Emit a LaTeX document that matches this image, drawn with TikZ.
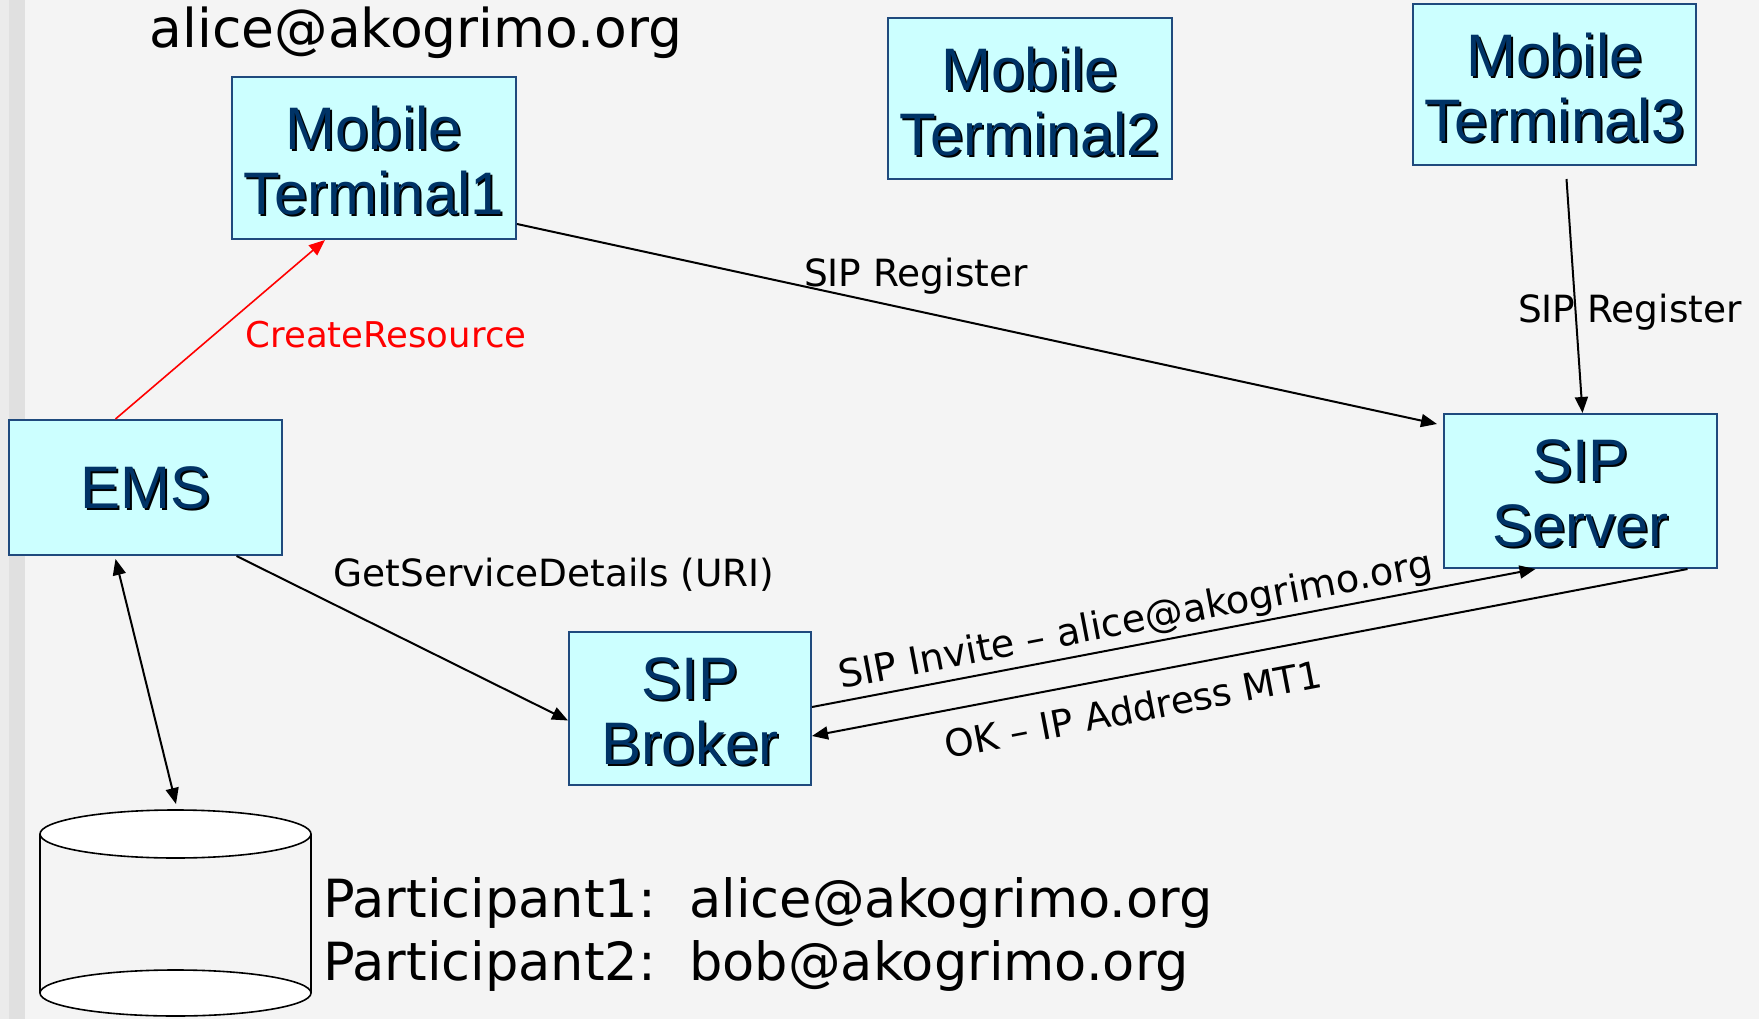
\documentclass[tikz,border=0pt]{standalone}
\usepackage{fontspec}
\setmainfont{DejaVu Sans}
\newfontfamily\boxfont{Liberation Sans}
\usetikzlibrary{arrows.meta,calc}
\definecolor{bgc}{HTML}{F4F4F4}
\definecolor{stripa}{HTML}{EBEBEB}
\definecolor{stripb}{HTML}{E0E0E0}
\definecolor{boxfill}{HTML}{CCFFFF}
\definecolor{boxline}{HTML}{1F4A7D}
\definecolor{boxtext}{HTML}{003366}
\newcommand\shtx[1]{\makebox[0pt][l]{\hspace{2pt}\raisebox{-2pt}{\color{black}#1}}#1}
\begin{document}
\begin{tikzpicture}[x=1pt,y=-1pt,
  >={Triangle[length=16pt,width=13pt]},
  comp/.style={draw=boxline, line width=2pt, fill=boxfill, inner sep=0pt},
  comptext/.style={text=boxtext, font=\boxfont\fontsize{60}{65}\selectfont, align=center, inner sep=0pt},
  lbl/.style={font=\fontsize{37.5}{40}\selectfont, text=black, inner sep=0pt},
  conn/.style={line width=2pt, ->},
  big/.style={font=\fontsize{52.6}{63}\selectfont, inner sep=0pt}]
\useasboundingbox (0,0) rectangle (1759,1019);
\fill[bgc] (0,0) rectangle (1759,1019);
\fill[stripa] (0,0) rectangle (9,1019);
\fill[stripb] (9,0) rectangle (25,1019);

% boxes
\node[comp, minimum width=284pt, minimum height=162pt] (mt1) at (374,158) {};
\node[comp, minimum width=284pt, minimum height=161pt] (mt2) at (1030,98.5) {};
\node[comp, minimum width=283pt, minimum height=161pt] (mt3) at (1554.5,84.5) {};
\node[comp, minimum width=273pt, minimum height=135pt] (ems) at (145.5,487.5) {};
\node[comp, minimum width=242pt, minimum height=153pt] (brk) at (690,708.5) {};
\node[comp, minimum width=273pt, minimum height=154pt] (srv) at (1580.5,491) {};
\node[comptext] (mt1t) at ([yshift=-4pt]mt1.center) {\shtx{Mobile}\\\shtx{Terminal1}};
\node[comptext] (mt2t) at ([yshift=-4pt]mt2.center) {\shtx{Mobile}\\\shtx{Terminal2}};
\node[comptext] (mt3t) at ([yshift=-4pt]mt3.center) {\shtx{Mobile}\\\shtx{Terminal3}};
\node[comptext] (emst) at ([yshift=-1.5pt]ems.center) {\shtx{EMS}};
\node[comptext] (brkt) at ([yshift=-4pt]brk.center) {\shtx{SIP}\\\shtx{Broker}};
\node[comptext] (srvt) at ([yshift=-3.5pt]srv.center) {\shtx{SIP}\\\shtx{Server}};

% database cylinder
\draw[line width=1.6pt] (40,834) -- (40,993);
\draw[line width=1.6pt] (311,834) -- (311,993);
\draw[line width=1.6pt, fill=white] (175.5,993) ellipse [x radius=135.5pt, y radius=23pt];
\draw[line width=1.6pt, fill=white] (175.5,834) ellipse [x radius=135.5pt, y radius=24pt];
\coordinate (dbtop) at (176,810);

% texts
\node[big, anchor=base, font=\fontsize{53.5}{63}\selectfont] (title) at (416,48) {alice@akogrimo.org};
\node[big, anchor=base west] (p1) at (323,917) {Participant1:\ \ alice@akogrimo.org};
\node[big, anchor=base west] (p2) at (323,980) {Participant2:\ \ bob@akogrimo.org};

% connectors
\draw[conn] ([yshift=16pt]mt1.south east) -- ([xshift=-6pt,yshift=-11pt]srv.north west);
\draw[conn] ([xshift=12pt,yshift=-13pt]mt3.south) -- ([xshift=2pt]srv.north);
\draw[conn, red, line width=1.6pt] ([xshift=-30pt]ems.north) -- ([xshift=-49pt]mt1.south);
\draw[conn] ([xshift=91pt]ems.south) -- ([yshift=-12pt]brk.west);
\draw[line width=2pt, <->] ([xshift=-30pt,yshift=-3pt]ems.south) -- ([yshift=6pt]dbtop);
\draw[conn] ([yshift=1.5pt]brk.east) -- ([xshift=-45pt]srv.south);
\draw[conn] ([xshift=107pt]srv.south) -- ([yshift=-27.5pt]brk.east);

% labels
\node[lbl, anchor=base] (l1) at (916,287) {SIP Register};
\node[lbl, anchor=base] (l2) at (1630,322) {SIP Register};
\node[lbl, anchor=base, text=red, font=\fontsize{35.5}{40}\selectfont] (l3) at (386,347) {CreateResource};
\node[lbl, anchor=base] (l4) at (554,586) {GetServiceDetails (URI)};
\node[lbl, rotate=10.8, font=\fontsize{38.3}{40}\selectfont] (l5) at (1136,622) {SIP Invite -- alice@akogrimo.org};
\node[lbl, rotate=10.8] (l6) at (1133,709) {OK -- IP Address MT1};
\end{tikzpicture}
\end{document}
